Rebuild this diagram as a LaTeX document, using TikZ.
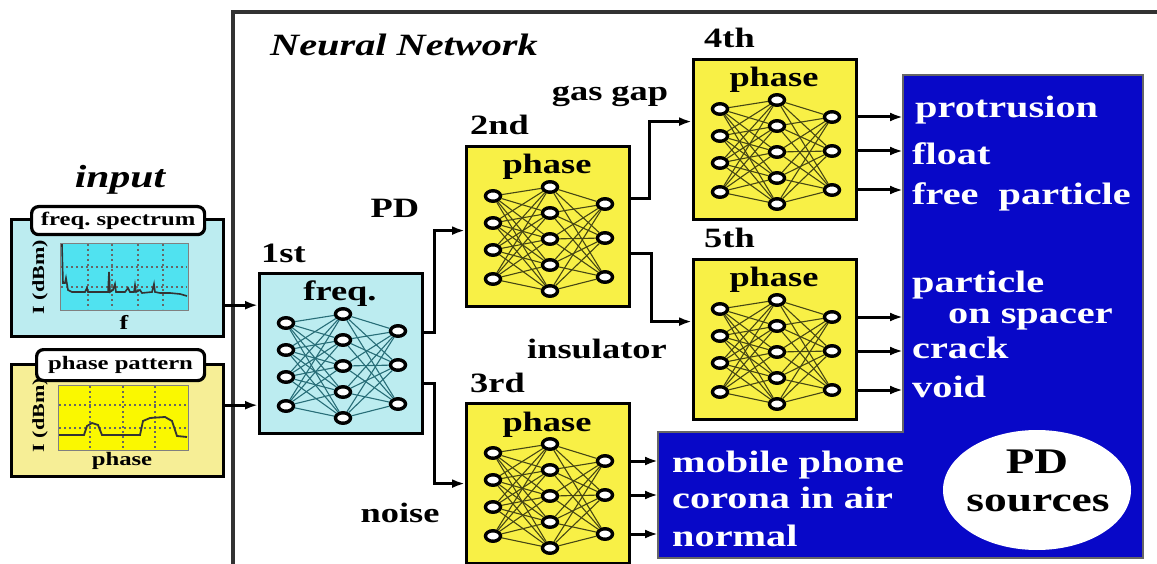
\documentclass[tikz,border=0pt]{standalone}
\usepackage{fontspec}
\setmainfont{Liberation Serif}[FakeStretch=1.3]
\usetikzlibrary{shapes.geometric,arrows.meta,calc}
\newcommand\myfs[1]{\fontsize{#1}{#1}\selectfont}
\definecolor{lcyan}{RGB}{188,236,240}
\definecolor{pcyan}{RGB}{80,226,240}
\definecolor{nnyel}{RGB}{248,240,70}
\definecolor{lyel}{RGB}{246,238,150}
\definecolor{pyel}{RGB}{250,248,0}
\definecolor{pdblue}{RGB}{8,8,200}
\definecolor{tealink}{RGB}{40,110,120}
\definecolor{olink}{RGB}{70,70,20}
\definecolor{frame}{RGB}{50,50,50}
\tikzset{
  nnframe/.style={draw, line width=3.2pt, minimum width=163pt, minimum height=160pt, anchor=north west, inner sep=0pt},
  neuron/.style={draw, ellipse, line width=3.4pt, fill=white, minimum width=15pt, minimum height=10.5pt, inner sep=0pt},
  lbl/.style={font=\bfseries\myfs{28}, inner sep=0pt},
  bltxt/.style={font=\bfseries\myfs{31}, text=white, inner sep=0pt, anchor=base west},
  arr/.style={line width=3pt, -{Latex[length=13pt,width=9pt]}},
  conn/.style={line width=3pt, -{Latex[length=13pt,width=9pt]}},
  inbox/.style={draw, line width=3.2pt, minimum width=212pt, minimum height=117pt, anchor=north west, inner sep=0pt},
  tagbox/.style={draw, line width=3.2pt, fill=white, rounded corners=7pt, inner sep=0pt, anchor=north west},
  grid/.style={dashed, dash pattern=on 2pt off 3pt, line width=1.2pt, black!60}
}
\newcommand\nnbox[6]{%
  \node[nnframe, fill=#5] (#1) at (#2,#3) {};
  \node[lbl, anchor=base] (#1t) at ($(#1.north west)+(82,29)$) {#4};
  \foreach \i/\dy in {1/51,2/78,3/105,4/134}
    \node[neuron] (#1L\i) at ($(#1.north west)+(28,\dy)$) {};
  \foreach \i/\dy in {1/42,2/68,3/94,4/120,5/146}
    \node[neuron] (#1M\i) at ($(#1.north west)+(85,\dy)$) {};
  \foreach \i/\dy in {1/59,2/93,3/132}
    \node[neuron] (#1R\i) at ($(#1.north west)+(140,\dy)$) {};
  \foreach \a in {1,...,4}{\foreach \b in {1,...,5}{\draw[#6, line width=1.1pt] (#1L\a) -- (#1M\b);}}
  \foreach \a in {1,...,5}{\foreach \b in {1,...,3}{\draw[#6, line width=1.1pt] (#1M\a) -- (#1R\b);}}
}
\begin{document}
\begin{tikzpicture}[x=1pt,y=-1pt]
\useasboundingbox (0,0) rectangle (1157,564);
% frame
\draw[frame, line width=3.2pt] (233,566) -- (233,12) -- (1160,12);
\node[font=\bfseries\itshape\myfs{31}, inner sep=0pt] (nntitle) at (404,45) {Neural Network};
\node[font=\bfseries\itshape\myfs{32}, inner sep=0pt] (inputt) at (120,180) {input};
% input boxes
\node[inbox, fill=lcyan] (fbox) at (10,218) {};
\node[inbox, fill=lyel, minimum height=112pt] (pbox) at (10,363) {};
% freq plot
\node[draw=black!50, line width=1pt, fill=pcyan, minimum width=128pt, minimum height=67pt, anchor=north west, inner sep=0pt] (fplot) at (60,243) {};
\foreach \x in {88,112,138,163} \draw[grid] (\x,244) -- (\x,309);
\foreach \y in {267,287} \draw[grid] (61,\y) -- (187,\y);
\draw[black!80, line width=1.6pt] (61,245) -- (62,245) -- (63,283) -- (65,283) -- (66,278) -- (68,290) -- (72,292) -- (85,292) -- (87,288) -- (88,292) -- (100,292) -- (108,292) -- (109,272) -- (110,292) -- (113,290) -- (115,284) -- (116,292) -- (125,292) -- (128,288) -- (130,292) -- (134,292) -- (135,285) -- (136,292) -- (140,290) -- (142,293) -- (152,292) -- (154,284) -- (155,292) -- (160,293) -- (170,293) -- (180,294) -- (187,296);
\node[tagbox, minimum width=173pt, minimum height=28pt] (ftag) at (30,205) {};
\node[font=\bfseries\myfs{19}, inner sep=0pt] (ftagt) at (ftag.center) {freq.\ spectrum};
\node[font=\bfseries\myfs{17}, inner sep=0pt, rotate=90] (fy) at (40,277) {I (dBm)};
\node[font=\bfseries\myfs{20}, inner sep=0pt] (fx) at (124,322) {f};
% phase plot
\node[draw=black!50, line width=1pt, fill=pyel, minimum width=130pt, minimum height=65pt, anchor=north west, inner sep=0pt] (pplot) at (58,385) {};
\foreach \x in {90,123,155} \draw[grid] (\x,386) -- (\x,449);
\foreach \y in {405,428} \draw[grid] (59,\y) -- (187,\y);
\draw[black!80, line width=1.8pt] (59,435) -- (84,435) -- (87,426) -- (92,423) -- (98,425) -- (102,435) -- (140,435) -- (143,421) -- (150,418) -- (165,417) -- (172,421) -- (177,436) -- (187,437);
\node[tagbox, minimum width=168pt, minimum height=31pt] (ptag) at (35,348) {};
\node[font=\bfseries\myfs{19}, inner sep=0pt] (ptagt) at (ptag.center) {phase pattern};
\node[font=\bfseries\myfs{17}, inner sep=0pt, rotate=90] (py) at (40,415) {I (dBm)};
\node[font=\bfseries\myfs{19}, inner sep=0pt] (px) at (122,461) {phase};
% blue PD area
\draw[fill=pdblue, draw=black!60, line width=1.5pt] (903,75) -- (1143,75) -- (1143,558) -- (658,558) -- (658,432) -- (903,432) -- cycle;
\coordinate (bU) at (903,75);
\coordinate (bL) at (658,432);
% NN boxes
\nnbox{n1}{258}{272}{freq.}{lcyan}{tealink}
\nnbox{n2}{465}{145}{phase}{nnyel}{olink}
\nnbox{n3}{465}{402}{phase}{nnyel}{olink}
\nnbox{n4}{692}{58}{phase}{nnyel}{olink}
\nnbox{n5}{692}{258}{phase}{nnyel}{olink}
\node[lbl, anchor=base west] (l1) at ($(n1.north west)+(3,-9)$) {1st};
\node[lbl, anchor=base west] (l2) at ($(n2.north west)+(5,-10)$) {2nd};
\node[lbl, anchor=base west] (l3) at ($(n3.north west)+(5,-10)$) {3rd};
\node[lbl, anchor=base west] (l4) at ($(n4.north west)+(12,-10)$) {4th};
\node[lbl, anchor=base west] (l5) at ($(n5.north west)+(12,-10)$) {5th};
% input -> 1st
\draw[arr] ([yshift=33pt]fbox.south east) -- ([yshift=33pt]fbox.south east -| n1.west);
\draw[arr] ([yshift=73pt]pbox.south east) -- ([yshift=73pt]pbox.south east -| n1.west);
% 1st -> 2nd, 3rd
\draw[conn] ([yshift=21pt]n1.east) -- ++(10,0) |- ([yshift=-4pt]n2.west);
\draw[conn] ([yshift=-30pt]n1.east) -- ++(10,0) |- (n3.west);
% 2nd -> 4th, 5th
\draw[conn] ([yshift=28pt]n2.east) -- ++(18,0) |- ([yshift=18pt]n4.west);
\draw[conn] ([yshift=-27pt]n2.east) -- ++(20,0) |- ([yshift=18pt]n5.west);
% outputs
\foreach \k in {1,2,3} {
  \draw[arr] (n4R\k -| n4.east) -- (n4R\k -| bU);
  \draw[arr] (n5R\k -| n5.east) -- (n5R\k -| bU);
  \draw[arr] (n3R\k -| n3.east) -- (n3R\k -| bL);
}
% branch labels
\node[lbl] (tPD) at (395,208) {PD};
\node[lbl] (tgas) at (610,96) {gas gap};
\node[lbl] (tins) at (597,349) {insulator};
\node[lbl] (tnoise) at (400,513) {noise};
% class labels
\node[bltxt] (c1) at (915,118) {protrusion};
\node[bltxt] (c2) at (912,165) {float};
\node[bltxt] (c3) at (912,205) {free\ \ particle};
\node[bltxt] (c4) at (912,292) {particle};
\node[bltxt] (c5) at (948,323) {on spacer};
\node[bltxt] (c6) at (912,358) {crack};
\node[bltxt] (c7) at (912,397) {void};
\node[bltxt] (c8) at (672,472) {mobile phone};
\node[bltxt] (c9) at (672,508) {corona in air};
\node[bltxt] (c10) at (672,546) {normal};
% PD sources ellipse
\node[ellipse, fill=white, minimum width=188pt, minimum height=120pt, inner sep=0pt] (pds) at (1037,490) {};
\node[font=\bfseries\myfs{36}, inner sep=0pt, anchor=base] (pdt1) at (1037,473) {PD};
\node[font=\bfseries\myfs{35}, inner sep=0pt, anchor=base] (pdt2) at (1038,511) {sources};
\end{tikzpicture}
\end{document}
